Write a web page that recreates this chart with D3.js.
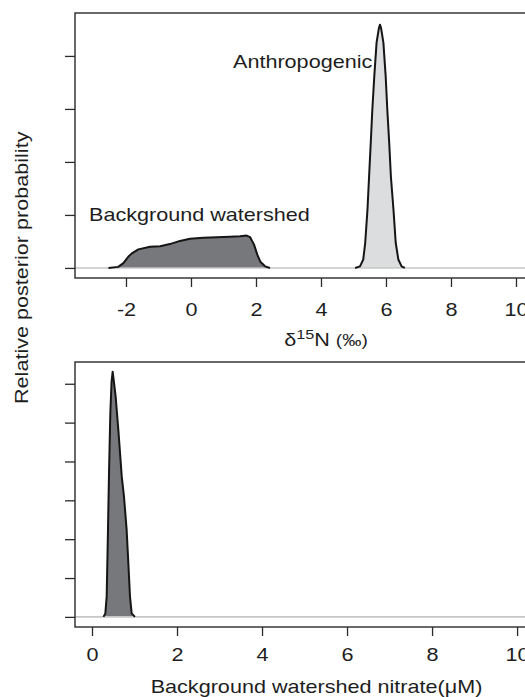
<!DOCTYPE html>
<html>
<head>
<meta charset="utf-8">
<script src="https://cdn.jsdelivr.net/npm/d3@7"></script>
<style>
  html, body { margin: 0; padding: 0; background: #fff; }
  svg { display: block; }
  text { font-family: "Liberation Sans", Arial, Helvetica, sans-serif; fill: #1e1e1e; }
</style>
</head>
<body>
<svg id="chart" width="525" height="697"></svg>
<script>
// ---------- data ----------
// Top panel: posterior densities of d15N sources
const bgX = [-2.54, -2.24, -2.08, -1.93, -1.83, -1.62, -1.26, -0.95, -0.65, -0.34, -0.03, 0.38, 0.79, 1.20, 1.51, 1.71, 1.82, 1.94, 2.04, 2.14, 2.28, 2.43];
const bgY = [0, 0.02, 0.09, 0.21, 0.27, 0.35, 0.40, 0.41, 0.45, 0.51, 0.55, 0.57, 0.58, 0.59, 0.60, 0.61, 0.58, 0.44, 0.25, 0.11, 0.03, 0];

const anX = [5.05, 5.20, 5.30, 5.36, 5.43, 5.48, 5.53, 5.58, 5.64, 5.71, 5.78, 5.815, 5.85, 5.92, 5.99, 6.04, 6.10, 6.15, 6.23, 6.30, 6.38, 6.48, 6.58];
const anY = [0, 0.03, 0.16, 0.47, 1.10, 1.73, 2.35, 2.99, 3.62, 4.25, 4.52, 4.59, 4.52, 4.25, 3.62, 2.99, 2.35, 1.73, 1.10, 0.47, 0.16, 0.03, 0];

// Bottom panel: posterior density of background watershed nitrate
const nitX = [0.27, 0.314, 0.345, 0.376, 0.40, 0.431, 0.46, 0.486, 0.51, 0.557, 0.62, 0.70, 0.753, 0.815, 0.855, 0.894, 0.933, 1.01];
const nitY = [0, 0.09, 0.52, 2.24, 3.69, 5.24, 6.05, 6.31, 6.10, 5.66, 4.81, 3.61, 3.09, 2.24, 1.38, 0.52, 0.09, 0];

const topXTicks = [-2, 0, 2, 4, 6, 8, 10];
const topYTicks = [0, 1, 2, 3, 4];
const botXTicks = [0, 2, 4, 6, 8, 10];
const botYTicks = [0, 1, 2, 3, 4, 5, 6];

const labelBg = "Background watershed";
const labelAn = "Anthropogenic";
const yTitle = "Relative posterior probability";
const botXTitle = "Background watershed nitrate(\u03BCM)";

// ---------- layout ----------
const svg = d3.select("#chart");
const SX = 1.2;           // horizontal glyph stretch of the original lettering
const FS = 18;
const left = 75, right = 560;

const topP = { top: 13, bottom: 278 };
const botP = { top: 362, bottom: 627 };

const xTop = d3.scaleLinear().domain([-3.569, 11.354]).range([left, right]);
const yTop = d3.scaleLinear().domain([-0.19, 4.81]).range([topP.bottom, topP.top]);
const xBot = d3.scaleLinear().domain([-0.4, 11.01]).range([left, right]);
const yBot = d3.scaleLinear().domain([-0.26, 6.56]).range([botP.bottom, botP.top]);

function panel(x, y, P, xTicks, yTicks, series, labelBaseline) {
  const g = svg.append("g");
  const clipId = "clip" + P.top;
  svg.append("clipPath").attr("id", clipId)
    .append("rect").attr("x", left).attr("y", P.top)
    .attr("width", right - left).attr("height", P.bottom - P.top);
  const inner = g.append("g").attr("clip-path", `url(#${clipId})`);

  // densities
  series.forEach(s => {
    const pts = s.xs.map((v, i) => [v, s.ys[i]]);
    inner.append("path").datum(pts)
      .attr("d", d3.area().x(d => x(d[0])).y0(y(0)).y1(d => y(d[1])))
      .attr("fill", s.fill);
  });
  // gray baseline
  inner.append("line")
    .attr("x1", left).attr("x2", right)
    .attr("y1", y(0)).attr("y2", y(0))
    .attr("stroke", "#c6c6c6").attr("stroke-width", 1.6);
  series.forEach(s => {
    const pts = s.xs.map((v, i) => [v, s.ys[i]]);
    inner.append("path").datum(pts)
      .attr("d", d3.line().x(d => x(d[0])).y(d => y(d[1])))
      .attr("fill", "none").attr("stroke", "#151515")
      .attr("stroke-width", 2).attr("stroke-linejoin", "round");
  });

  // box
  g.append("rect")
    .attr("x", left).attr("y", P.top)
    .attr("width", right - left).attr("height", P.bottom - P.top)
    .attr("fill", "none").attr("stroke", "#2a2a2a").attr("stroke-width", 1.4);

  // x axis
  const xa = g.append("g").attr("transform", `translate(0,${P.bottom})`)
    .call(d3.axisBottom(x).tickValues(xTicks).tickSize(9).tickSizeOuter(0)
      .tickFormat(d => String(d)));
  xa.select(".domain").remove();
  xa.selectAll(".tick line").attr("stroke", "#2a2a2a").attr("stroke-width", 1.3);
  xa.selectAll(".tick text")
    .attr("font-size", FS).attr("fill", "#1e1e1e")
    .attr("y", 0).attr("dy", 0)
    .attr("transform", `translate(0,${labelBaseline - P.bottom}) scale(${SX},1)`)
    .style("font-family", '"Liberation Sans", Arial, sans-serif');

  // y axis (no labels)
  const ya = g.append("g").attr("transform", `translate(${left},0)`)
    .call(d3.axisLeft(y).tickValues(yTicks).tickSize(10).tickSizeOuter(0).tickFormat(""));
  ya.select(".domain").remove();
  ya.selectAll(".tick line").attr("stroke", "#2a2a2a").attr("stroke-width", 1.3);
  return g;
}

panel(xTop, yTop, topP, topXTicks, topYTicks, [
  { xs: bgX, ys: bgY, fill: "#77787b" },
  { xs: anX, ys: anY, fill: "#dcdddf" }
], 316);

panel(xBot, yBot, botP, botXTicks, botYTicks, [
  { xs: nitX, ys: nitY, fill: "#77787b" }
], 661);

function stretchedText(x, y, txt, anchor, rotate) {
  return svg.append("text")
    .attr("transform", `translate(${x},${y})${rotate ? " rotate(-90)" : ""} scale(${SX},1)`)
    .attr("text-anchor", anchor)
    .attr("font-size", FS)
    .text(txt);
}

// in-plot labels
stretchedText(233, 68, labelAn, "start");
stretchedText(89, 220.5, labelBg, "start");

// top x title: δ15N (‰)
const t = svg.append("text")
  .attr("transform", `translate(326,346) scale(${SX},1)`)
  .attr("text-anchor", "middle")
  .attr("font-size", FS);
t.append("tspan").text("\u03B4");
t.append("tspan").attr("font-size", 13.5).attr("dy", -7).text("15");
t.append("tspan").attr("dy", 7).text("N ");
t.append("tspan").attr("font-size", 16).text("(\u2030)");

// bottom x title
stretchedText(316.5, 693, botXTitle, "middle");

// shared y title
stretchedText(28, 404, yTitle, "start", true);
</script>
</body>
</html>
